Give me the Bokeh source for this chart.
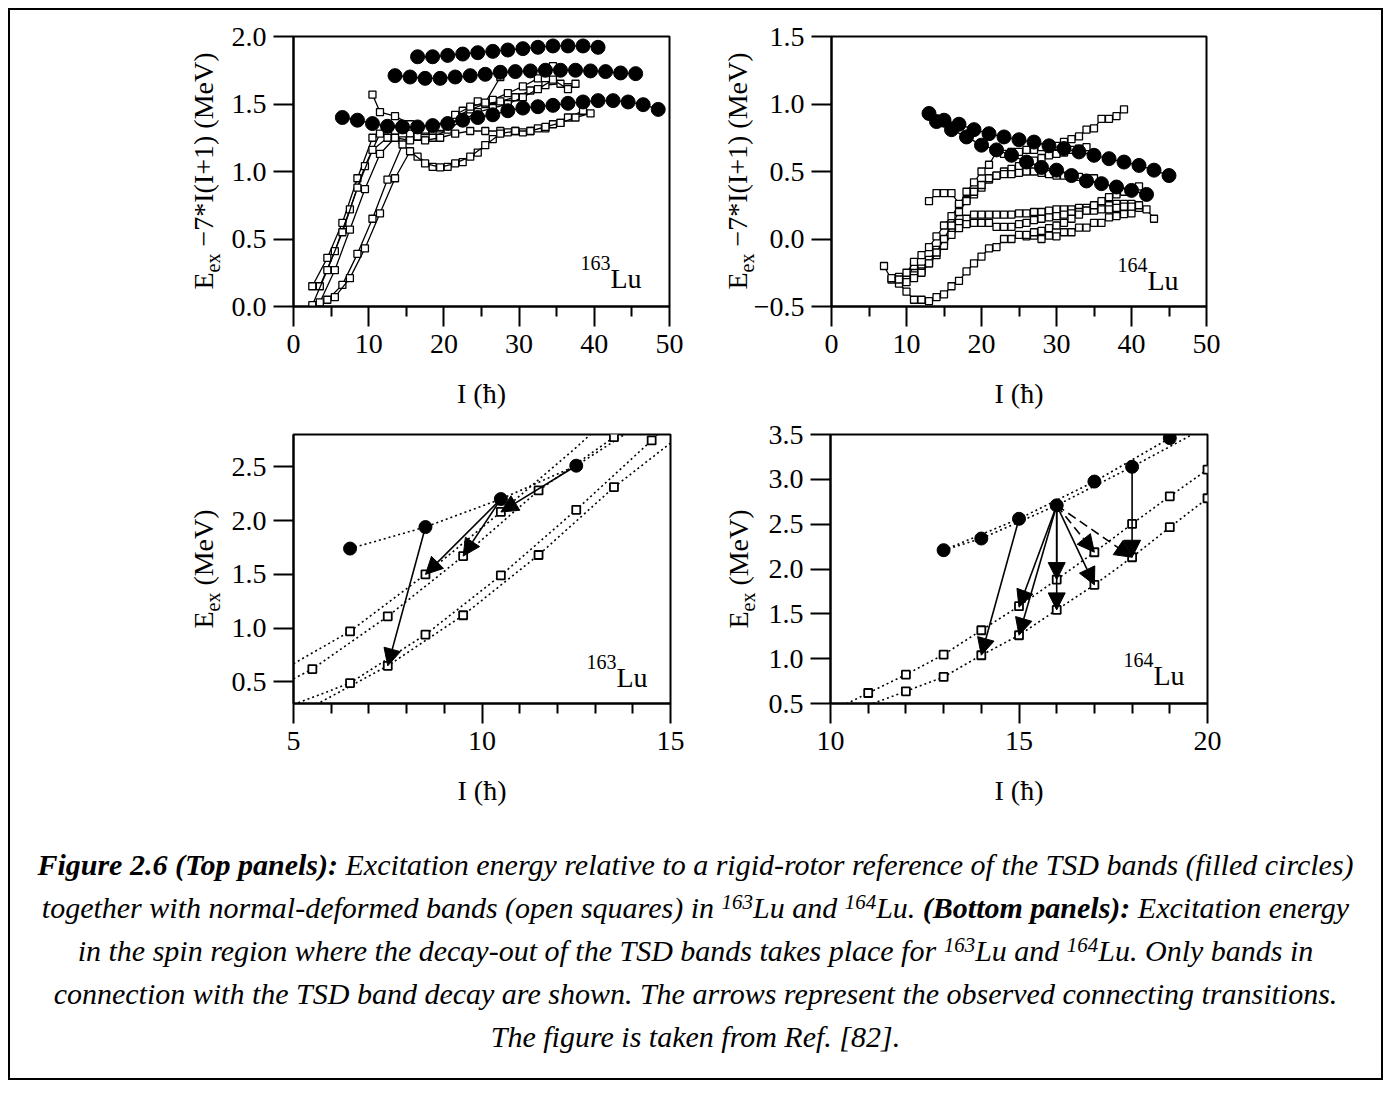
import math
from bokeh.plotting import figure
from bokeh.models import ColumnDataSource, Arrow, NormalHead, Label, Div, FixedTicker, Range1d
from bokeh.layouts import row, column
from bokeh.embed import file_html
from bokeh.resources import INLINE

FONT = "Liberation Serif"

# ---------------- data: top-left (163Lu), E_ex - 7*I(I+1) ----------------
tl_tsd1_I = [6.5, 8.5, 10.5, 12.5, 14.5, 16.5, 18.5, 20.5, 22.5, 24.5, 26.5, 28.5, 30.5, 32.5, 34.5, 36.5, 38.5, 40.5, 42.5, 44.5, 46.5, 48.5]
tl_tsd1_E = [1.40, 1.38, 1.355, 1.335, 1.33, 1.33, 1.34, 1.355, 1.38, 1.40, 1.42, 1.45, 1.47, 1.48, 1.49, 1.505, 1.515, 1.525, 1.525, 1.515, 1.495, 1.46]
tl_tsd2_I = [13.5, 15.5, 17.5, 19.5, 21.5, 23.5, 25.5, 27.5, 29.5, 31.5, 33.5, 35.5, 37.5, 39.5, 41.5, 43.5, 45.5]
tl_tsd2_E = [1.71, 1.70, 1.69, 1.69, 1.70, 1.71, 1.72, 1.735, 1.74, 1.745, 1.75, 1.75, 1.75, 1.745, 1.74, 1.73, 1.725]
tl_tsd3_I = [16.5, 18.5, 20.5, 22.5, 24.5, 26.5, 28.5, 30.5, 32.5, 34.5, 36.5, 38.5, 40.5]
tl_tsd3_E = [1.85, 1.85, 1.86, 1.87, 1.88, 1.89, 1.90, 1.91, 1.92, 1.93, 1.93, 1.93, 1.92]

tl_nd_a_I = [2.5, 4.5, 6.5, 8.5, 10.5, 12.5, 14.5, 16.5, 18.5, 20.5, 22.5, 24.5, 26.5, 28.5, 30.5, 32.5, 34.5]
tl_nd_a_E = [0.15, 0.36, 0.62, 0.95, 1.25, 1.33, 1.35, 1.31, 1.30, 1.34, 1.45, 1.52, 1.53, 1.58, 1.63, 1.69, 1.78]
tl_nd_b_I = [3.5, 5.5, 7.5, 9.5, 11.5, 13.5, 15.5, 17.5, 19.5, 21.5, 23.5, 25.5, 27.5, 29.5, 31.5, 33.5, 35.5, 37.5]
tl_nd_b_E = [0.15, 0.41, 0.72, 1.04, 1.28, 1.30, 1.28, 1.30, 1.32, 1.40, 1.46, 1.50, 1.52, 1.55, 1.60, 1.64, 1.65, 1.65]
tl_nd_c_I = [2.5, 4.5, 6.5, 8.5, 10.5, 12.5, 14.5, 16.5, 18.5, 20.5, 22.5, 24.5, 26.5, 28.5, 30.5, 32.5, 34.5, 36.5]
tl_nd_c_E = [0.01, 0.27, 0.55, 0.88, 1.16, 1.25, 1.23, 1.26, 1.25, 1.31, 1.38, 1.44, 1.47, 1.50, 1.55, 1.61, 1.68, 1.61]
tl_nd_d_I = [3.5, 5.5, 7.5, 9.5, 11.5, 13.5, 15.5, 17.5, 19.5, 21.5, 23.5, 25.5, 27.5, 29.5, 31.5, 33.5, 35.5]
tl_nd_d_E = [0.03, 0.27, 0.57, 0.87, 1.13, 1.25, 1.23, 1.23, 1.25, 1.28, 1.30, 1.30, 1.30, 1.30, 1.30, 1.32, 1.36]
tl_nd_e_I = [10.5, 11.5, 13.5, 15.5, 17.5, 19.5, 21.5, 23.5, 25.5, 27.5]
tl_nd_e_E = [1.57, 1.44, 1.41, 1.35, 1.31, 1.33, 1.42, 1.48, 1.51, 1.70]
tl_nd_f_I = [4.5, 6.5, 8.5, 10.5, 12.5, 14.5, 16.5, 18.5, 20.5, 22.5, 24.5, 26.5, 28.5, 30.5, 32.5, 34.5, 36.5, 38.5]
tl_nd_f_E = [0.05, 0.16, 0.39, 0.65, 0.94, 1.20, 1.11, 1.035, 1.035, 1.07, 1.14, 1.24, 1.29, 1.29, 1.32, 1.35, 1.40, 1.45]
tl_nd_g_I = [5.5, 7.5, 9.5, 11.5, 13.5, 15.5, 17.5, 19.5, 21.5, 23.5, 25.5, 27.5, 29.5, 31.5, 33.5, 35.5, 37.5, 39.5]
tl_nd_g_E = [0.07, 0.21, 0.43, 0.69, 0.95, 1.15, 1.06, 1.03, 1.06, 1.11, 1.195, 1.28, 1.30, 1.30, 1.33, 1.36, 1.40, 1.43]

# ---------------- data: top-right (164Lu) ----------------
tr_tsd1_I = [13, 15, 17, 19, 21, 23, 25, 27, 29, 31, 33, 35, 37, 39, 41, 43, 45]
tr_tsd1_E = [0.93, 0.88, 0.85, 0.81, 0.78, 0.756, 0.735, 0.718, 0.69, 0.67, 0.645, 0.62, 0.595, 0.57, 0.545, 0.51, 0.47]
tr_tsd2_I = [14, 16, 18, 20, 22, 24, 26, 28, 30, 32, 34, 36, 38, 40, 42]
tr_tsd2_E = [0.87, 0.81, 0.756, 0.695, 0.66, 0.62, 0.57, 0.53, 0.51, 0.47, 0.43, 0.41, 0.385, 0.36, 0.33]

tr_nd1_I = list(range(7, 41))
tr_nd1_E = [-0.20, -0.30, -0.33, -0.39, -0.45, -0.45, -0.46, -0.43, -0.41, -0.35, -0.31, -0.24, -0.18, -0.13,
            -0.07, -0.06, 0.0, 0.0, 0.03, 0.02, 0.025, 0.0, 0.025, 0.02, 0.05, 0.05, 0.085, 0.085, 0.12, 0.12,
            0.16, 0.17, 0.185, 0.19]
tr_nd2_I = list(range(8, 44))
tr_nd2_E = [-0.29, -0.28, -0.29, -0.20, -0.22, -0.155, -0.08, -0.02, 0.07, 0.12, 0.15, 0.18, 0.18, 0.18, 0.18,
            0.18, 0.18, 0.19, 0.19, 0.20, 0.20, 0.21, 0.22, 0.22, 0.22, 0.23, 0.23, 0.24, 0.25, 0.25, 0.26,
            0.26, 0.26, 0.23, 0.22, 0.15]
tr_nd3_I = list(range(10, 42))
tr_nd3_E = [-0.32, -0.27, -0.24, -0.18, -0.12, -0.05, 0.03, 0.08, 0.11, 0.12, 0.12, 0.12, 0.09, 0.09, 0.09,
            0.11, 0.12, 0.14, 0.15, 0.16, 0.17, 0.18, 0.19, 0.20, 0.21, 0.21, 0.22, 0.22, 0.23, 0.24, 0.24, 0.25]
tr_nd4_I = list(range(9, 40))
tr_nd4_E = [-0.30, -0.25, -0.17, -0.12, -0.06, 0.02, 0.10, 0.17, 0.25, 0.35, 0.42, 0.50, 0.55, 0.645, 0.63,
            0.645, 0.645, 0.66, 0.66, 0.68, 0.68, 0.69, 0.72, 0.74, 0.76, 0.81, 0.82, 0.89, 0.89, 0.91, 0.96]
tr_nd5_I = list(range(13, 35))
tr_nd5_E = [0.28, 0.34, 0.34, 0.34, 0.26, 0.29, 0.33, 0.38, 0.44, 0.47, 0.50, 0.52, 0.54, 0.56, 0.58, 0.60,
            0.62, 0.63, 0.64, 0.66, 0.67, 0.68]
tr_nd6_I = list(range(11, 36))
tr_nd6_E = [-0.29, -0.25, -0.18, -0.10, 0.0, 0.10, 0.20, 0.28, 0.35, 0.40, 0.45, 0.47, 0.48, 0.48, 0.49, 0.50,
            0.50, 0.49, 0.48, 0.47, 0.47, 0.46, 0.46, 0.45, 0.45]
tr_nd7_I = list(range(26, 42))
tr_nd7_E = [0.03, 0.05, 0.06, 0.08, 0.10, 0.12, 0.15, 0.18, 0.21, 0.25, 0.28, 0.31, 0.33, 0.35, 0.37, 0.39]

# ---------------- data: bottom-left (163Lu), E_ex ----------------
bl_tsd_I = [6.5, 8.5, 10.5, 12.5]
bl_tsd_E = [1.74, 1.94, 2.20, 2.51]
bl_nd1_I = [6.5, 8.5, 10.5]
bl_nd1_E = [0.97, 1.50, 2.08]
bl_nd2_I = [5.5, 7.5, 9.5, 11.5, 13.5]
bl_nd2_E = [0.62, 1.11, 1.67, 2.28, 2.775]
bl_nd3_I = [6.5, 8.5, 10.5, 12.5, 14.5]
bl_nd3_E = [0.49, 0.94, 1.49, 2.10, 2.745]
bl_nd4_I = [7.5, 9.5, 11.5, 13.5]
bl_nd4_E = [0.65, 1.12, 1.68, 2.31]
# dotted guide curves as drawn in the picture (run past the frame)
bl_fit_tsd_I = [6.5, 8.5, 10.5, 12.5, 14.0]
bl_fit_tsd_E = [1.74, 1.94, 2.20, 2.51, 2.85]
bl_fit1_I = [5.0, 6.5, 8.5, 10.5, 12.5, 13.5]
bl_fit1_E = [0.67, 0.97, 1.50, 2.08, 2.68, 3.0]
bl_fit2_I = [5.0, 5.5, 7.5, 9.5, 11.5, 13.5, 14.5]
bl_fit2_E = [0.53, 0.62, 1.11, 1.67, 2.28, 2.775, 3.05]
bl_fit3_I = [5.0, 6.5, 8.5, 10.5, 12.5, 14.5, 15.0]
bl_fit3_E = [0.29, 0.49, 0.94, 1.49, 2.10, 2.745, 2.92]
bl_fit4_I = [5.6, 7.5, 9.5, 11.5, 13.5, 15.0]
bl_fit4_E = [0.29, 0.65, 1.12, 1.68, 2.31, 2.72]
bl_arr_I0 = [8.5, 10.5, 10.5, 12.5]
bl_arr_E0 = [1.94, 2.20, 2.20, 2.51]
bl_arr_I1 = [7.5, 8.5, 9.5, 10.5]
bl_arr_E1 = [0.65, 1.50, 1.67, 2.08]

# ---------------- data: bottom-right (164Lu), E_ex ----------------
br_tsd_I = [13, 14, 15, 16, 17, 18, 19]
br_tsd_E = [2.21, 2.34, 2.56, 2.71, 2.975, 3.14, 3.46]
br_fit_a_I = [13, 15, 17, 19, 19.6]
br_fit_a_E = [2.21, 2.56, 2.975, 3.46, 3.62]
br_fit_b_I = [13, 14, 16, 18, 19.6]
br_fit_b_E = [2.21, 2.34, 2.71, 3.14, 3.50]
br_nd1_I = [11, 12, 13, 14, 15, 16, 17, 18, 19, 20]
br_nd1_E = [0.617, 0.822, 1.045, 1.317, 1.585, 1.882, 2.187, 2.503, 2.811, 3.109]
br_nd2_I = [12, 13, 14, 15, 16, 17, 18, 19, 20]
br_nd2_E = [0.636, 0.796, 1.038, 1.261, 1.544, 1.823, 2.131, 2.466, 2.789]
br_fit1_I = [10.3] + br_nd1_I
br_fit1_E = [0.47] + br_nd1_E
br_fit2_I = [11.0] + br_nd2_I
br_fit2_E = [0.48] + br_nd2_E
br_arr_I0 = [15, 16, 16, 16, 16, 16, 18]
br_arr_E0 = [2.56, 2.71, 2.71, 2.71, 2.71, 2.71, 3.14]
br_arr_I1 = [14, 15, 15, 16, 16, 17, 18]
br_arr_E1 = [1.038, 1.574, 1.261, 1.882, 1.544, 1.823, 2.131]
br_darr_I0 = [16, 16]
br_darr_E0 = [2.71, 2.71]
br_darr_I1 = [17, 18]
br_darr_E1 = [2.187, 2.131]

# ---------------- axes / ticks / titles ----------------
top_x_ticks = [0, 10, 20, 30, 40, 50]
top_x_minor = [5, 15, 25, 35, 45]
tl_y_ticks = [0.0, 0.5, 1.0, 1.5, 2.0]
tl_y_labels = ["0.0", "0.5", "1.0", "1.5", "2.0"]
tr_y_ticks = [-0.5, 0.0, 0.5, 1.0, 1.5]
tr_y_labels = ["\u22120.5", "0.0", "0.5", "1.0", "1.5"]
bl_x_ticks = [5, 10, 15]
bl_x_minor = [6, 7, 8, 9, 11, 12, 13, 14]
bl_y_ticks = [0.5, 1.0, 1.5, 2.0, 2.5]
bl_y_labels = ["0.5", "1.0", "1.5", "2.0", "2.5"]
br_x_ticks = [10, 15, 20]
br_x_minor = [11, 12, 13, 14, 16, 17, 18, 19]
br_y_ticks = [0.5, 1.0, 1.5, 2.0, 2.5, 3.0, 3.5]
br_y_labels = ["0.5", "1.0", "1.5", "2.0", "2.5", "3.0", "3.5"]
top_y_rest = " \u22127*I(I+1) (MeV)"
bottom_y_rest = " (MeV)"
x_title = "I (\u0127)"

FW = 377


def make_fig(xr, yr, xt, xm, yt, yl, fh, bl, br, bt, bb):
    p = figure(frame_width=FW, frame_height=fh, x_range=Range1d(*xr), y_range=Range1d(*yr),
               output_backend="svg", toolbar_location=None,
               min_border_left=bl, min_border_right=br, min_border_top=bt, min_border_bottom=bb)
    p.xgrid.visible = False
    p.ygrid.visible = False
    p.outline_line_color = "black"
    p.outline_line_width = 2
    p.outline_line_alpha = 1.0
    p.border_fill_alpha = 0.0
    xa = p.xaxis[0]
    ya = p.yaxis[0]
    xa.ticker = FixedTicker(ticks=xt, minor_ticks=xm)
    ya.ticker = FixedTicker(ticks=yt)
    ya.major_label_overrides = {float(v): s for v, s in zip(yt, yl)}
    for ax in (xa, ya):
        ax.axis_line_color = "black"
        ax.axis_line_width = 2
        ax.major_tick_line_color = "black"
        ax.major_tick_line_width = 2
        ax.major_tick_out = 20
        ax.major_tick_in = 0
        ax.major_label_text_font = FONT
        ax.major_label_text_font_size = "28px"
        ax.major_label_text_color = "black"
        ax.axis_label_text_font = FONT
        ax.axis_label_text_font_size = "28px"
        ax.axis_label_text_font_style = "normal"
        ax.axis_label_text_color = "black"
    xa.major_label_standoff = 8
    ya.major_label_standoff = 7
    xa.minor_tick_line_color = "black"
    xa.minor_tick_line_width = 2
    xa.minor_tick_out = 10
    xa.minor_tick_in = 0
    ya.minor_tick_line_color = None
    xa.axis_label = x_title
    xa.axis_label_standoff = 22
    return p


def ytitle_div(width, height, cx, cy, rest):
    html = ('<div style="position:relative;width:%dpx;height:%dpx;overflow:visible;">'
            '<div style="position:absolute;left:%dpx;top:%dpx;transform:translate(-50%%,-50%%) rotate(-90deg);'
            'white-space:nowrap;font-family:\'Liberation Serif\',serif;font-size:28px;line-height:24px;color:black;">'
            'E<span style="font-size:20px;position:relative;top:7px;">ex</span>%s</div></div>'
            % (width, height, cx, cy, rest))
    return Div(text=html, width=width, height=height, margin=(0, 0, 0, 0), styles={"overflow": "visible"})


def iso(p, xr, yr, mass, dx, dy):
    p.add_layout(Label(x=xr[1], y=yr[0], x_offset=dx, y_offset=dy, text="Lu", text_align="right",
                       text_baseline="alphabetic", text_font=FONT, text_font_size="28px", text_color="black"))
    p.add_layout(Label(x=xr[1], y=yr[0], x_offset=dx - 31, y_offset=dy + 16, text=mass, text_align="right",
                       text_baseline="alphabetic", text_font=FONT, text_font_size="20px", text_color="black"))


def nd_band(p, I, E, lw=1.3, size=7):
    p.line(I, E, line_color="black", line_width=lw)
    p.scatter(I, E, marker="square", size=size, fill_color="white", line_color="black", line_width=lw)


def tsd_band(p, I, E, size=14):
    p.line(I, E, line_color="black", line_width=1.3)
    p.scatter(I, E, marker="circle", size=size, fill_color="black", line_color="black")


# geometry (inside the 2px border that starts at x=8,y=8)
H1 = 26 + 270 + 106
H2 = 22 + 269 + 110

# ---------------- top-left ----------------
tl_xr, tl_yr = (0, 50), (0.0, 2.0)
p1 = make_fig(tl_xr, tl_yr, top_x_ticks, top_x_minor, tl_y_ticks, tl_y_labels, 270, 70, 30, 26, 106)
for I, E in [(tl_nd_a_I, tl_nd_a_E), (tl_nd_b_I, tl_nd_b_E), (tl_nd_c_I, tl_nd_c_E), (tl_nd_d_I, tl_nd_d_E),
             (tl_nd_e_I, tl_nd_e_E), (tl_nd_f_I, tl_nd_f_E), (tl_nd_g_I, tl_nd_g_E)]:
    nd_band(p1, I, E)
for I, E in [(tl_tsd1_I, tl_tsd1_E), (tl_tsd2_I, tl_tsd2_E), (tl_tsd3_I, tl_tsd3_E)]:
    tsd_band(p1, I, E)
iso(p1, tl_xr, tl_yr, "163", -28, 28)

# ---------------- top-right ----------------
tr_xr, tr_yr = (0, 50), (-0.5, 1.5)
p2 = make_fig(tr_xr, tr_yr, top_x_ticks, top_x_minor, tr_y_ticks, tr_y_labels, 270, 79, 174, 26, 106)
for I, E in [(tr_nd1_I, tr_nd1_E), (tr_nd2_I, tr_nd2_E), (tr_nd3_I, tr_nd3_E), (tr_nd4_I, tr_nd4_E),
             (tr_nd5_I, tr_nd5_E), (tr_nd6_I, tr_nd6_E), (tr_nd7_I, tr_nd7_E)]:
    nd_band(p2, I, E)
for I, E in [(tr_tsd1_I, tr_tsd1_E), (tr_tsd2_I, tr_tsd2_E)]:
    tsd_band(p2, I, E)
iso(p2, tr_xr, tr_yr, "164", -28, 26)

DOT = "2 3"

# ---------------- bottom-left ----------------
bl_xr, bl_yr = (5, 15), (0.3, 2.8)
p3 = make_fig(bl_xr, bl_yr, bl_x_ticks, bl_x_minor, bl_y_ticks, bl_y_labels, 269, 70, 30, 22, 110)
for I, E in [(bl_fit_tsd_I, bl_fit_tsd_E), (bl_fit1_I, bl_fit1_E), (bl_fit2_I, bl_fit2_E),
             (bl_fit3_I, bl_fit3_E), (bl_fit4_I, bl_fit4_E)]:
    p3.line(I, E, line_color="black", line_width=1.6, line_dash=DOT)
for I, E in [(bl_nd1_I, bl_nd1_E), (bl_nd2_I, bl_nd2_E), (bl_nd3_I, bl_nd3_E), (bl_nd4_I, bl_nd4_E)]:
    p3.scatter(I, E, marker="square", size=8, fill_color="white", line_color="black", line_width=1.8)
p3.scatter(bl_tsd_I, bl_tsd_E, marker="circle", size=13, fill_color="black", line_color="black")
p3.add_layout(Arrow(end=NormalHead(size=17, fill_color="black", line_color="black"),
                    source=ColumnDataSource(dict(x0=bl_arr_I0, y0=bl_arr_E0, x1=bl_arr_I1, y1=bl_arr_E1)),
                    x_start="x0", y_start="y0", x_end="x1", y_end="y1", line_color="black", line_width=1.6))
iso(p3, bl_xr, bl_yr, "163", -23, 26)

# ---------------- bottom-right ----------------
br_xr, br_yr = (10, 20), (0.5, 3.5)
p4 = make_fig(br_xr, br_yr, br_x_ticks, br_x_minor, br_y_ticks, br_y_labels, 269, 79, 174, 22, 110)
for I, E in [(br_fit_a_I, br_fit_a_E), (br_fit_b_I, br_fit_b_E), (br_fit1_I, br_fit1_E), (br_fit2_I, br_fit2_E)]:
    p4.line(I, E, line_color="black", line_width=1.6, line_dash=DOT)
for I, E in [(br_nd1_I, br_nd1_E), (br_nd2_I, br_nd2_E)]:
    p4.scatter(I, E, marker="square", size=8, fill_color="white", line_color="black", line_width=1.8)
p4.scatter(br_tsd_I, br_tsd_E, marker="circle", size=13, fill_color="black", line_color="black")
p4.add_layout(Arrow(end=NormalHead(size=17, fill_color="black", line_color="black"),
                    source=ColumnDataSource(dict(x0=br_arr_I0, y0=br_arr_E0, x1=br_arr_I1, y1=br_arr_E1)),
                    x_start="x0", y_start="y0", x_end="x1", y_end="y1", line_color="black", line_width=1.6))
p4.add_layout(Arrow(end=NormalHead(size=17, fill_color="black", line_color="black"),
                    source=ColumnDataSource(dict(x0=br_darr_I0, y0=br_darr_E0, x1=br_darr_I1, y1=br_darr_E1)),
                    x_start="x0", y_start="y0", x_end="x1", y_end="y1", line_color="black", line_width=1.6,
                    line_dash="9 5"))
iso(p4, br_xr, br_yr, "164", -23, 28)

# y-axis titles as HTML (real subscript), placed in the strips left of each plot
dA1 = ytitle_div(213, H1, 195, 161, top_y_rest)
dB1 = ytitle_div(51, H1, 40, 161, top_y_rest)
dA2 = ytitle_div(213, H2, 195, 157, bottom_y_rest)
dB2 = ytitle_div(51, H2, 40, 157, bottom_y_rest)

# ---------------- caption ----------------
SUP = '<span style="font-size:0.7em;position:relative;top:-0.45em;line-height:0;vertical-align:baseline">'
cap_lines = [
    "<b>Figure 2.6 (Top panels):</b> Excitation energy relative to a rigid-rotor reference of the TSD bands (filled circles)",
    "together with normal-deformed bands (open squares) in " + SUP + "163</span>Lu and " + SUP + "164</span>Lu. <b>(Bottom panels):</b> Excitation energy",
    "in the spin region where the decay-out of the TSD bands takes place for " + SUP + "163</span>Lu and " + SUP + "164</span>Lu. Only bands in",
    "connection with the TSD band decay are shown. The arrows represent the observed connecting transitions.",
    "The figure is taken from Ref. [82].",
]
cap_html = ('<div style="width:1371px;text-align:center;font-family:\'Liberation Serif\',serif;'
            'font-style:italic;font-size:30px;line-height:43px;padding-top:30px;white-space:nowrap;color:black;">'
            + "".join('<div style="height:43px;line-height:43px">' + s + '</div>' for s in cap_lines) + '</div>')
cap = Div(text=cap_html, width=1371, height=265, margin=(0, 0, 0, 0))

layout = column(row(dA1, p1, dB1, p2), row(dA2, p3, dB2, p4), cap, width=1375, sizing_mode="fixed",
                styles={"border": "2px solid black", "background-color": "white"},
                margin=(8, 0, 0, 8))

html = file_html(layout, INLINE, title="TSD bands Lu")
open("out.html", "w").write(html)
